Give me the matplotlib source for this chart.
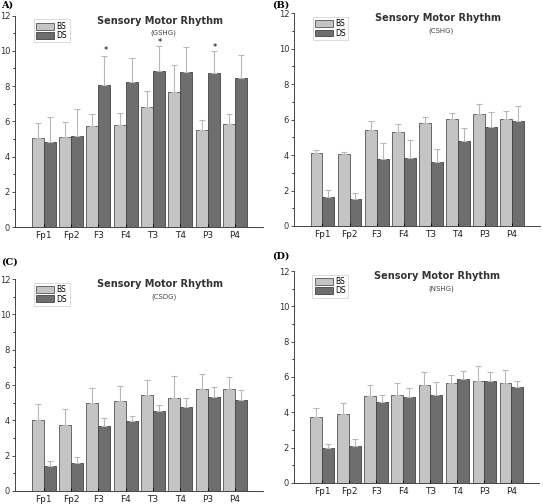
import numpy as np
import matplotlib
matplotlib.use("Agg")
import matplotlib.pyplot as plt
from matplotlib.ticker import MultipleLocator

# data
sites = ["Fp1", "Fp2", "F3", "F4", "T3", "T4", "P3", "P4"]

gshg_bs = [5.05, 5.10, 5.72, 5.77, 6.80, 7.65, 5.50, 5.87]
gshg_bs_err = [0.85, 0.87, 0.70, 0.71, 0.90, 1.55, 0.60, 0.53]
gshg_ds = [4.82, 5.15, 8.07, 8.25, 8.87, 8.80, 8.72, 8.48]
gshg_ds_err = [1.45, 1.55, 1.63, 1.37, 1.43, 1.42, 1.26, 1.29]

cshg_bs = [4.09, 4.08, 5.41, 5.30, 5.82, 6.05, 6.30, 6.03]
cshg_bs_err = [0.18, 0.09, 0.49, 0.47, 0.35, 0.32, 0.55, 0.47]
cshg_ds = [1.62, 1.54, 3.77, 3.83, 3.62, 4.80, 5.60, 5.90]
cshg_ds_err = [0.43, 0.33, 0.88, 1.00, 0.73, 0.75, 0.82, 0.85]

csdg_bs = [4.04, 3.75, 4.97, 5.07, 5.43, 5.26, 5.77, 5.77]
csdg_bs_err = [0.88, 0.87, 0.85, 0.88, 0.87, 1.24, 0.86, 0.66]
csdg_ds = [1.42, 1.58, 3.68, 3.96, 4.53, 4.75, 5.33, 5.15]
csdg_ds_err = [0.28, 0.32, 0.44, 0.26, 0.35, 0.50, 0.55, 0.55]

nshg_bs = [3.72, 3.92, 4.92, 5.00, 5.52, 5.65, 5.80, 5.65]
nshg_bs_err = [0.53, 0.60, 0.61, 0.67, 0.78, 0.48, 0.82, 0.75]
nshg_ds = [1.96, 2.08, 4.57, 4.88, 5.00, 5.88, 5.78, 5.42]
nshg_ds_err = [0.24, 0.39, 0.43, 0.52, 0.70, 0.44, 0.52, 0.38]

gshg_stars = [2, 4, 6]          # sites marked with *
star_y = [10.0, 10.47, 10.19]

panels = [
    ("A)", "(GSHG)", gshg_bs, gshg_bs_err, gshg_ds, gshg_ds_err, [0.0276, 0.5496, 0.4564, 0.4194]),
    ("(B)", "(CSHG)", cshg_bs, cshg_bs_err, cshg_ds, cshg_ds_err, [0.5414, 0.5516, 0.4526, 0.4224]),
    ("(C)", "(CSDG)", csdg_bs, csdg_bs_err, csdg_ds, csdg_ds_err, [0.0276, 0.0258, 0.4564, 0.4206]),
    ("(D)", "(NSHG)", nshg_bs, nshg_bs_err, nshg_ds, nshg_ds_err, [0.5414, 0.0417, 0.4512, 0.4206]),
]
label_pos = [(0.002, 0.998), (0.502, 0.998), (0.002, 0.490), (0.502, 0.500)]

c_bs = "#c4c4c4"
c_ds = "#6e6e6e"
c_err = "#b8b8b8"

fig = plt.figure(figsize=(5.43, 5.04), dpi=100)
x = np.arange(len(sites))
w = 0.44

for k, (lab, sub, bs, bse, ds, dse, rect) in enumerate(panels):
    ax = fig.add_axes(rect)
    ax.bar(x - w/2, bs, w, color=c_bs, edgecolor="#555555", linewidth=0.6, label="BS")
    ax.bar(x + w/2, ds, w, color=c_ds, edgecolor="#444444", linewidth=0.6, label="DS")
    ax.errorbar(x - w/2, bs, yerr=[np.zeros(len(bs)), bse], fmt="none",
                ecolor=c_err, elinewidth=0.8, capsize=2, capthick=0.8)
    ax.errorbar(x + w/2, ds, yerr=[np.zeros(len(ds)), dse], fmt="none",
                ecolor=c_err, elinewidth=0.8, capsize=2, capthick=0.8)
    if k == 0:
        for i, sy in zip(gshg_stars, star_y):
            ax.text(x[i] + w/2 + 0.05, sy, "*", fontsize=6, ha="center", va="center")
    ax.set_xlim(-1.05, 8.02)
    ax.set_ylim(0, 12)
    ax.set_xticks(x)
    ax.set_xticklabels(sites, fontsize=6.5, color="#222222")
    ax.yaxis.set_major_locator(MultipleLocator(2))
    ax.yaxis.set_minor_locator(MultipleLocator(1))
    ax.tick_params(axis="y", labelsize=6, length=2.5, width=0.6, pad=1, colors="#333333")
    ax.tick_params(axis="y", which="minor", length=1.5, width=0.6)
    ax.tick_params(axis="x", direction="in", length=2, width=0.6, pad=3)
    for s in ["top", "right"]:
        ax.spines[s].set_visible(False)
    for s in ["left", "bottom"]:
        ax.spines[s].set_linewidth(0.7)
        ax.spines[s].set_color("#444444")
    ax.text(0.585, 0.975, "Sensory Motor Rhythm", transform=ax.transAxes,
            fontsize=7, fontweight="bold", ha="center", va="center", color="#333333")
    ax.text(0.6, 0.918, sub, transform=ax.transAxes,
            fontsize=5, ha="center", va="center", color="#444444")
    leg = ax.legend(loc="upper left", bbox_to_anchor=(0.06, 1.0), fontsize=5.5,
                    frameon=True, fancybox=False, handlelength=2.4, handleheight=1.0,
                    borderpad=0.3, labelspacing=0.05, handletextpad=0.3)
    leg.get_frame().set_edgecolor("#cccccc")
    leg.get_frame().set_linewidth(0.6)
    fig.text(label_pos[k][0], label_pos[k][1], lab, fontsize=7, fontweight="bold",
             ha="left", va="top", family="DejaVu Serif")

fig.savefig("out.png", dpi=100)
